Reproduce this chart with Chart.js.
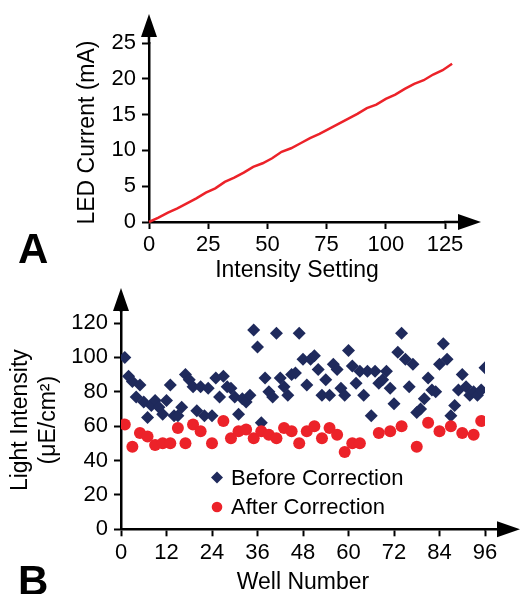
<!DOCTYPE html>
<html>
<head>
<meta charset="utf-8">
<script src="https://cdn.jsdelivr.net/npm/chart.js@4/dist/chart.umd.min.js"></script>
<style>
  html, body { margin: 0; padding: 0; background: #fff; overflow: hidden; }
  #wrap { position: relative; width: 523px; height: 594px; }
  #chartA { position: absolute; left: 0; top: 0; }
  #chartB { position: absolute; left: 0; top: 280px; }
  .panel { position: absolute; left: 18px; font: bold 42px 'Liberation Sans', Arial, sans-serif; line-height: 42px; color: #000; }
</style>
</head>
<body>
<div id="wrap">
  <canvas id="chartA" width="523" height="290"></canvas>
  <canvas id="chartB" width="523" height="317"></canvas>
  <div class="panel" style="top:228px">A</div>
  <div class="panel" style="top:560px">B</div>
</div>
<script>
// Panel A: LED current vs intensity setting
const intensity = [0, 4, 8, 12, 16, 20, 24, 28, 32, 36, 40, 44, 48, 52, 56, 60, 64,
  68, 72, 76, 80, 84, 88, 92, 96, 100, 104, 108, 112, 116, 120, 124, 128];
const ledCurrent = [0, 0.6, 1.3, 1.9, 2.6, 3.3, 4.1, 4.7, 5.6, 6.2, 6.9, 7.7, 8.2,
  8.9, 9.8, 10.3, 11.0, 11.7, 12.3, 13.0, 13.7, 14.4, 15.1, 15.9, 16.4, 17.2,
  17.8, 18.6, 19.3, 19.8, 20.6, 21.2, 22.1];

// Panel B: light intensity per well
const beforeValues = [100, 89, 86, 77, 84, 74, 65, 72, 75, 71, 67, 75, 84, 66, 66, 71,
  90, 87, 83, 69, 83, 66, 82, 66, 88, 77, 89, 83, 82, 77, 67, 76,
  74, 78, 116, 106, 62, 88, 80, 77, 114, 88, 83, 78, 90, 91, 114, 99,
  84, 99, 101, 93, 78, 87, 78, 96, 93, 82, 78, 104, 95, 85, 92, 78,
  92, 66, 92, 85, 87, 92, 82, 73, 103, 114, 99, 83, 96, 68, 70, 76,
  88, 81, 80, 96, 108, 99, 66, 72, 81, 90, 83, 78, 80, 78, 81, 94];
const beforeWells = beforeValues.map((v, i) => i + 1);
const afterWells = [1, 3, 5, 7, 9, 11, 13, 15, 17, 19, 21, 24, 27, 29, 31, 33, 35, 37,
  39, 41, 43, 45, 47, 49, 51, 53, 55, 57, 59, 61, 63, 68, 71, 74, 78, 81, 84, 87, 90, 93, 95];
const afterValues = [61, 48, 56, 54, 49, 50, 50, 59, 50, 61, 57, 50, 63, 53, 57, 58, 53, 57,
  55, 53, 59, 57, 50, 57, 60, 53, 59, 55, 45, 50, 50, 56, 57, 60, 48, 62, 57, 60, 56, 55, 63];

const FONT = "'Liberation Sans', Arial, sans-serif";
Chart.defaults.font.family = FONT;
Chart.defaults.color = '#000';

const NAVY = '#1f2a5c';
const RED = '#ec2229';

// axis lines continue past the plot and end in an arrow head
const axisArrows = {
  id: 'axisArrows',
  afterDraw(chart, args, opts) {
    const { ctx, chartArea: a } = chart;
    const yBase = a.top - opts.yExt;
    const xBase = a.right + opts.xExt;
    ctx.save();
    ctx.strokeStyle = '#000';
    ctx.fillStyle = '#000';
    ctx.lineWidth = 2.5;
    ctx.beginPath();
    ctx.moveTo(a.left, a.top + 1);
    ctx.lineTo(a.left, yBase);
    ctx.moveTo(a.right - 1, a.bottom);
    ctx.lineTo(xBase, a.bottom);
    ctx.stroke();
    ctx.beginPath();
    ctx.moveTo(a.left, yBase - opts.len);
    ctx.lineTo(a.left - opts.half, yBase);
    ctx.lineTo(a.left + opts.half, yBase);
    ctx.closePath();
    ctx.fill();
    ctx.beginPath();
    ctx.moveTo(xBase + opts.len, a.bottom);
    ctx.lineTo(xBase, a.bottom - opts.half);
    ctx.lineTo(xBase, a.bottom + opts.half);
    ctx.closePath();
    ctx.fill();
    ctx.restore();
  }
};

// legend drawn inside the plot, under the points
const innerLegend = {
  id: 'innerLegend',
  afterDraw(chart, args, opts) {
    const ctx = chart.ctx;
    ctx.save();
    ctx.font = opts.size + 'px ' + FONT;
    ctx.textBaseline = 'middle';
    chart.data.datasets.forEach((ds, i) => {
      const x = opts.x, y = opts.y + i * opts.gap;
      ctx.fillStyle = ds.backgroundColor;
      ctx.beginPath();
      if (ds.pointStyle === 'rectRot') {
        const r = 6;
        ctx.moveTo(x, y - r);
        ctx.lineTo(x + r, y);
        ctx.lineTo(x, y + r);
        ctx.lineTo(x - r, y);
        ctx.closePath();
      } else {
        ctx.arc(x, y, 5.3, 0, Math.PI * 2);
      }
      ctx.fill();
      ctx.fillStyle = '#000';
      ctx.fillText(ds.label, x + 14, y + 1);
    });
    ctx.restore();
  }
};

function axisStyle() {
  return {
    grid: { drawOnChartArea: false, tickLength: 7, tickWidth: 2, tickColor: '#000' },
    border: { color: '#000', width: 2.5 }
  };
}

new Chart(document.getElementById('chartA'), {
  type: 'line',
  data: {
    datasets: [{
      data: intensity.map((x, i) => ({ x: x, y: ledCurrent[i] })),
      borderColor: RED,
      borderWidth: 2.5,
      pointRadius: 0,
      tension: 0,
      fill: false,
      clip: false
    }]
  },
  options: {
    responsive: false,
    animation: false,
    layout: { padding: { top: 43, right: 78, left: 0, bottom: 0 } },
    plugins: {
      legend: { display: false },
      tooltip: { enabled: false },
      axisArrows: { yExt: 6, xExt: 13, len: 23, half: 8 }
    },
    scales: {
      x: {
        type: 'linear',
        min: 0,
        max: 125,
        ...axisStyle(),
        ticks: { stepSize: 25, includeBounds: false, padding: 3, font: { size: 22 }, maxRotation: 0 },
        title: { display: true, text: 'Intensity Setting', font: { size: 23 }, padding: { top: 0, bottom: 6 } },
        afterFit: s => { s.height = 68; }
      },
      y: {
        min: 0,
        max: 25,
        ...axisStyle(),
        ticks: { stepSize: 5, includeBounds: false, padding: 6, font: { size: 22 } },
        title: { display: true, text: 'LED Current (mA)', font: { size: 23 }, padding: { top: 74, bottom: 0 } },
        afterFit: s => { s.width = 149; }
      }
    }
  },
  plugins: [axisArrows]
});

new Chart(document.getElementById('chartB'), {
  type: 'scatter',
  data: {
    datasets: [{
      label: 'Before Correction',
      data: beforeWells.map((w, i) => ({ x: w, y: beforeValues[i] })),
      pointStyle: 'rectRot',
      pointRadius: 6.5,
      backgroundColor: NAVY,
      borderWidth: 0,
      order: 2
    }, {
      label: 'After Correction',
      data: afterWells.map((w, i) => ({ x: w, y: afterValues[i] })),
      pointStyle: 'circle',
      pointRadius: 6,
      backgroundColor: RED,
      borderWidth: 0,
      order: 1
    }]
  },
  options: {
    responsive: false,
    animation: false,
    layout: { padding: { top: 31, right: 38, left: 0, bottom: 0 } },
    plugins: {
      legend: { display: false },
      tooltip: { enabled: false },
      axisArrows: { yExt: 0, xExt: 12, len: 23, half: 8 },
      innerLegend: { x: 217, y: 197.5, gap: 29.5, size: 22 }
    },
    scales: {
      x: {
        type: 'linear',
        min: 0,
        max: 96,
        ...axisStyle(),
        ticks: { stepSize: 12, includeBounds: false, padding: 3, font: { size: 22 }, maxRotation: 0 },
        title: { display: true, text: 'Well Number', font: { size: 23 }, padding: { top: 0, bottom: 1 } },
        afterFit: s => { s.height = 67.7; }
      },
      y: {
        min: 0,
        max: 127,
        ...axisStyle(),
        ticks: { stepSize: 20, includeBounds: false, padding: 6, font: { size: 22 } },
        title: { display: true, text: ['Light Intensity', '(μE/cm²)'], font: { size: 23 }, padding: { top: 7, bottom: 0 } },
        afterFit: s => { s.width = 121; }
      }
    }
  },
  plugins: [axisArrows, innerLegend]
});
</script>
</body>
</html>
